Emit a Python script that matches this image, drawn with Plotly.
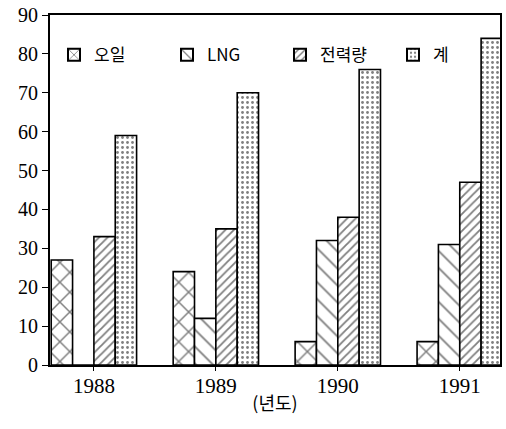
import plotly.graph_objects as go

years = ["1988", "1989", "1990", "1991"]
oil = [27, 24, 6, 6]
lng = [0, 12, 32, 31]
power = [33, 35, 38, 47]
total = [59, 70, 76, 84]

series_names = ["오일", "LNG", "전력량", "계"]
y_ticks = [0, 10, 20, 30, 40, 50, 60, 70, 80, 90]

serif = "Liberation Serif, Times New Roman, Noto Sans CJK KR, serif"
kr = "Noto Sans CJK KR, Liberation Serif, serif"

patterns = [
    dict(shape="x", size=14, solidity=0.2, fgcolor="black", bgcolor="white"),
    dict(shape="\\", size=12, solidity=0.15, fgcolor="black", bgcolor="white"),
    dict(shape="/", size=6, solidity=0.3, fgcolor="black", bgcolor="white"),
    dict(shape=".", size=5, solidity=0.25, fgcolor="black", bgcolor="white"),
]

fig = go.Figure()
for name, vals, pat in zip(series_names, [oil, lng, power, total], patterns):
    fig.add_trace(go.Bar(
        x=years, y=vals, name=name,
        marker=dict(color="white", line=dict(color="black", width=1.6), pattern=pat),
    ))

fig.update_layout(
    width=506, height=429,
    margin=dict(l=50, r=4, t=14, b=64),
    paper_bgcolor="white", plot_bgcolor="white",
    barmode="group", bargap=0.3, bargroupgap=0,
    font=dict(family=serif, color="black", size=20),
    showlegend=True,
    legend=dict(
        orientation="h", x=0.022, y=0.885, xanchor="left", yanchor="middle",
        bgcolor="rgba(0,0,0,0)", font=dict(family=kr, size=17),
        entrywidth=68, entrywidthmode="pixels", itemsizing="constant",
        tracegroupgap=0,
    ),
    xaxis=dict(
        type="category", range=[-0.36, 3.33],
        showline=True, linecolor="black", linewidth=2, mirror=True,
        ticks="outside", ticklen=4, tickcolor="black",
        tickfont=dict(family=serif, size=21), ticklabelstandoff=-3,
        title=dict(text="(년도)", font=dict(family=kr, size=18), standoff=0),
        showgrid=False,
    ),
    yaxis=dict(
        range=[0, 90], tickvals=y_ticks,
        showline=True, linecolor="black", linewidth=2, mirror=True,
        ticks="outside", ticklen=6, tickcolor="black",
        tickfont=dict(family=serif, size=20),
        showgrid=False, zeroline=False,
    ),
)

fig.write_html("out.html", config={"displayModeBar": False},
               post_script="document.body.style.margin='0px';")
